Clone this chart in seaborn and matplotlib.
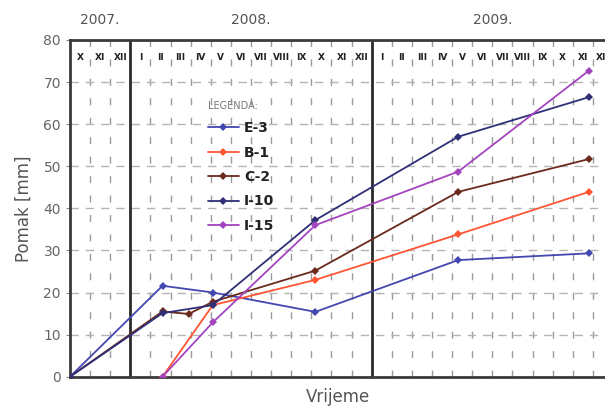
# Pomak po vremenu za pet mjernih točaka (2007.-2009.)

import matplotlib.pyplot as plt
import pandas as pd
import seaborn as sns

# vrijeme u mjesecima od 1. X. 2007.
oznake = ['E-3', 'B-1', 'C-2', 'I-10', 'I-15']
vrijeme_e3 = [0, 4.6, 7.1, 12.2, 19.3, 25.8]
pomak_e3 = [0, 21.6, 20.0, 15.4, 27.7, 29.3]
vrijeme_b1 = [4.6, 7.1, 12.2, 19.3, 25.8]
pomak_b1 = [0, 17.0, 23.0, 33.8, 43.9]
vrijeme_c2 = [0, 4.6, 5.9, 7.1, 12.2, 19.3, 25.8]
pomak_c2 = [0, 15.5, 14.9, 17.8, 25.2, 43.9, 51.7]
vrijeme_i10 = [0, 4.6, 7.1, 12.2, 19.3, 25.8]
pomak_i10 = [0, 15.1, 17.0, 37.2, 57.0, 66.4]
vrijeme_i15 = [4.6, 7.1, 12.2, 19.3, 25.8]
pomak_i15 = [0, 12.9, 36.0, 48.7, 72.7]

boje = ['#4347b0', '#ff5533', '#6a2a1c', '#2f2f78', '#a344bf']

mjeseci = ['X', 'XI', 'XII'] + ['I', 'II', 'III', 'IV', 'V', 'VI', 'VII', 'VIII', 'IX', 'X', 'XI', 'XII'] * 2
godine = ['2007.', '2008.', '2009.']
granice_godina = [0, 3, 15, 27]

redovi = []
for ozn, xs, ys in zip(oznake,
                       [vrijeme_e3, vrijeme_b1, vrijeme_c2, vrijeme_i10, vrijeme_i15],
                       [pomak_e3, pomak_b1, pomak_c2, pomak_i10, pomak_i15]):
    for x, y in zip(xs, ys):
        redovi.append({'oznaka': ozn, 'vrijeme': x, 'pomak': y})
df = pd.DataFrame(redovi)

sns.set_style('white')
plt.rcParams['font.family'] = ['DejaVu Sans']

fig = plt.figure(figsize=(6.05, 4.09), dpi=100)
ax = fig.add_axes([70 / 605, 1 - 376.7 / 409, 535 / 605, (376.7 - 39.9) / 409])

# mreža
for i in range(1, 27):
    if i in granice_godina:
        continue
    ax.axvline(i, color='#9a9a9a', lw=1, linestyle=(0, (5, 9)), zorder=0)
for v in range(10, 80, 10):
    ax.axhline(v, color='#b4b4b4', lw=1, linestyle=(0, (6, 5)), zorder=0)
for g in granice_godina[1:3]:
    ax.axvline(g, color='#2b2b2b', lw=2, zorder=1)

sns.lineplot(data=df, x='vrijeme', y='pomak', hue='oznaka', hue_order=oznake,
             palette=boje, marker='D', markersize=4.5, markeredgewidth=0,
             linewidth=1.3, sort=False, estimator=None, ax=ax, zorder=3)

ax.set_xlim(0, 26.6)
ax.set_ylim(0, 80)
ax.set_yticks(range(0, 81, 10))
ax.set_xticks([])
ax.tick_params(axis='y', labelsize=10, labelcolor='#666666', length=3,
               color='#888888', left=True)
for s in ['left', 'top', 'bottom']:
    ax.spines[s].set_color('#3a3a3a')
    ax.spines[s].set_linewidth(2)
ax.spines['right'].set_visible(False)

ax.set_xlabel('Vrijeme', fontsize=12, color='#555555', labelpad=8)
ax.set_ylabel('Pomak [mm]', fontsize=12, color='#555555', labelpad=8)

# oznake mjeseci i godina
for i, m in enumerate(mjeseci):
    ax.text(i + 0.5, 75.9, m, ha='center', va='center', fontsize=6.5,
            fontweight='bold', color='#222222')
for k, g in enumerate(godine):
    ax.text((granice_godina[k] + granice_godina[k + 1]) / 2, 1.059, g,
            transform=ax.get_xaxis_transform(), ha='center', va='center',
            fontsize=10, color='#555555')

leg = ax.legend(title='LEGENDA:', loc='upper left', bbox_to_anchor=(0.245, 0.84),
                frameon=False, fontsize=10, title_fontsize=7, handlelength=2.2,
                handletextpad=0.4, labelspacing=0.75, borderpad=0, alignment='left')
leg.get_title().set_color('#777777')
for t in leg.get_texts():
    t.set_fontweight('bold')
    t.set_color('#222222')

fig.savefig('out.png', dpi=100)
